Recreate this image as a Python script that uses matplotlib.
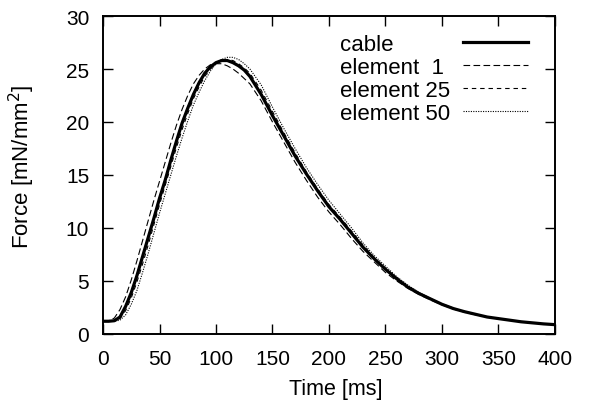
import matplotlib
matplotlib.use('Agg')
import matplotlib.pyplot as plt

plt.rcParams['font.family'] = ['Liberation Sans', 'DejaVu Sans']

# time points [ms]
time_ms = [0, 5, 10, 15, 20, 25, 30, 35, 40, 45, 50, 55, 60, 65, 70, 75, 80, 85, 90, 95,
           100, 105, 110, 115, 120, 125, 130, 140, 150, 160, 170, 180, 190, 200, 210, 220,
           230, 240, 250, 260, 270, 280, 290, 300, 310, 320, 330, 340, 350, 360, 370, 380,
           390, 400]

cable = [1.2, 1.2, 1.25, 1.6, 2.6, 3.9, 5.5, 7.3, 9.1, 10.9, 12.8, 14.5, 16.4, 18.2, 19.9,
         21.3, 22.6, 23.7, 24.6, 25.2, 25.6, 25.8, 25.8, 25.6, 25.3, 24.9, 24.3, 22.6, 20.6,
         18.7, 16.8, 15.1, 13.5, 12.0, 10.8, 9.5, 8.2, 7.1, 6.1, 5.2, 4.4, 3.8, 3.3, 2.8,
         2.4, 2.1, 1.85, 1.6, 1.45, 1.3, 1.15, 1.05, 0.95, 0.88]

element_1 = [1.2, 1.25, 1.5, 2.3, 3.5, 5.1, 6.9, 8.8, 10.7, 12.6, 14.4, 16.2, 18.0, 19.7,
             21.2, 22.5, 23.6, 24.4, 25.0, 25.4, 25.5, 25.5, 25.3, 25.0, 24.6, 24.1, 23.6,
             22.0, 20.0, 18.1, 16.2, 14.5, 12.9, 11.5, 10.3, 9.0, 7.8, 6.8, 5.8, 5.0, 4.3,
             3.7, 3.2, 2.75, 2.35, 2.05, 1.8, 1.6, 1.45, 1.3, 1.15, 1.05, 0.95, 0.88]

element_25 = [1.2, 1.2, 1.22, 1.45, 2.2, 3.4, 4.9, 6.6, 8.4, 10.3, 12.2, 14.0, 15.8, 17.6,
              19.3, 20.8, 22.2, 23.3, 24.3, 25.0, 25.5, 25.8, 25.9, 25.8, 25.5, 25.1, 24.6,
              23.0, 21.0, 19.0, 17.1, 15.3, 13.7, 12.2, 11.0, 9.7, 8.4, 7.2, 6.2, 5.3, 4.5,
              3.85, 3.3, 2.8, 2.4, 2.1, 1.85, 1.6, 1.45, 1.3, 1.15, 1.05, 0.95, 0.88]

element_50 = [1.2, 1.2, 1.2, 1.3, 1.8, 2.8, 4.1, 5.8, 7.6, 9.5, 11.4, 13.2, 15.0, 16.8,
              18.5, 20.1, 21.6, 22.8, 23.9, 24.8, 25.5, 25.9, 26.1, 26.1, 25.9, 25.5, 25.0,
              23.5, 21.4, 19.4, 17.5, 15.7, 14.1, 12.6, 11.3, 10.0, 8.6, 7.4, 6.4, 5.4, 4.6,
              3.9, 3.35, 2.85, 2.45, 2.1, 1.85, 1.6, 1.45, 1.3, 1.15, 1.05, 0.95, 0.88]

labels = ['cable', 'element  1', 'element 25', 'element 50']
x_ticks = [0, 50, 100, 150, 200, 250, 300, 350, 400]
y_ticks = [0, 5, 10, 15, 20, 25, 30]

fig = plt.figure(figsize=(5.9, 4.1), dpi=100)
ax = fig.add_axes([0.1746, 0.183, 0.766, 0.7755])

l0, = ax.plot(time_ms, cable, color='black', lw=2.3)
l1, = ax.plot(time_ms, element_1, color='black', lw=0.8, dashes=(6, 3))
l2, = ax.plot(time_ms, element_25, color='black', lw=0.8, dashes=(4, 3.5))
l3, = ax.plot(time_ms, element_50, color='black', lw=0.8, dashes=(1, 1.2))
handles = [l0, l1, l2, l3]

ax.set_xlim(0, 400)
ax.set_ylim(0, 30)
ax.set_xticks(x_ticks)
ax.set_yticks(y_ticks)
ax.tick_params(direction='in', top=True, right=True, length=7.5, width=1, labelsize=15)
ax.tick_params(axis='x', pad=11)
ax.tick_params(axis='y', pad=10)
for sp in ax.spines.values():
    sp.set_linewidth(1.4)

ax.set_xlabel('Time [ms]', fontsize=15.5)
ax.xaxis.set_label_coords(0.514, -0.14)
ax.set_ylabel('Force [mN/mm$^2$]', fontsize=16)
ax.yaxis.set_label_coords(-0.145, 0.528)

# gnuplot-like key: left-justified text, samples on the right
common = dict(frameon=False, fontsize=16, labelspacing=0.1, borderpad=0, borderaxespad=0)
key_lines = ax.legend(handles, labels, loc='upper right', bbox_to_anchor=(0.941, 0.945),
                      markerfirst=False, handlelength=2.95, handletextpad=0.4, **common)
for t in key_lines.get_texts():
    t.set_visible(False)   # only keeps the spacing, text is drawn by the second key
ax.add_artist(key_lines)
key_text = ax.legend(handles, labels, loc='upper left', bbox_to_anchor=(0.524, 0.945),
                     handlelength=0, handletextpad=0, **common)
for ln in key_text.get_lines():
    ln.set_visible(False)

plt.savefig('out.png', dpi=100)
